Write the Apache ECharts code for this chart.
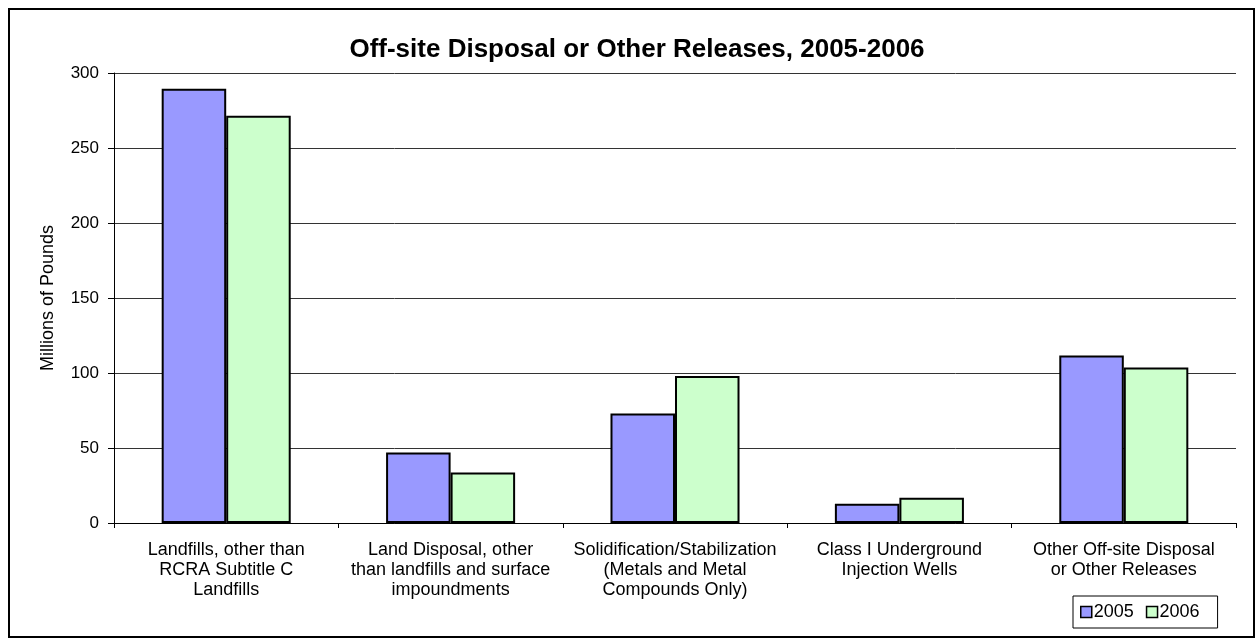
<!DOCTYPE html>
<html><head><meta charset="utf-8">
<script src="https://cdn.jsdelivr.net/npm/echarts@6/dist/echarts.min.js"></script>
<style>html,body{margin:0;padding:0;background:#fff}#c{width:1256px;height:639px}</style>
</head><body><div id="c"></div>
<script>
const categories = [
  "Landfills, other than\nRCRA Subtitle C\nLandfills",
  "Land Disposal, other\nthan landfills and surface\nimpoundments",
  "Solidification/Stabilization\n(Metals and Metal\nCompounds Only)",
  "Class I Underground\nInjection Wells",
  "Other Off-site Disposal\nor Other Releases"
];
const values2005 = [289.5, 47, 73, 12.9, 111.7];
const values2006 = [271.5, 33.7, 98, 16.9, 103.7];
const yTicks = [0, 50, 100, 150, 200, 250, 300];

const chart = echarts.init(document.getElementById('c'));
const font = 'Liberation Sans, Arial, sans-serif';
chart.setOption({
  animation: false,
  textStyle: {fontFamily: font},
  title: {
    text: 'Off-site Disposal or Other Releases, 2005-2006',
    left: 632, textAlign: 'center', top: 32,
    textStyle: {fontFamily: font, fontSize: 26, fontWeight: 'bold', color: '#000'}
  },
  graphic: [{
    type: 'rect', shape: {x: 9, y: 9, width: 1245, height: 628},
    style: {fill: 'none', stroke: '#000', lineWidth: 2}, silent: true, z: -1
  }],
  legend: {
    left: 1073, top: 596,
    padding: [7, 18, 7, 7],
    borderColor: '#000', borderWidth: 1,
    icon: 'rect', itemWidth: 11, itemHeight: 11, itemGap: 12,
    textStyle: {fontFamily: font, fontSize: 18, color: '#000', padding: [0, 0, 0, -3]},
    itemStyle: {borderColor: '#000', borderWidth: 1.5},
    data: ['2005', '2006']
  },
  grid: {left: 114, right: 20, top: 73, bottom: 116, containLabel: false},
  xAxis: {
    type: 'category', data: categories,
    axisLine: {lineStyle: {color: '#000', width: 1}},
    axisTick: {show: true, interval: 0, length: 5, lineStyle: {color: '#000'}},
    axisLabel: {interval: 0, margin: 17, fontSize: 18, lineHeight: 20, color: '#000', fontFamily: font}
  },
  yAxis: {
    type: 'value', min: 0, max: 300, interval: 50,
    name: 'Millions of Pounds', nameLocation: 'middle', nameGap: 57, nameRotate: 90,
    nameTextStyle: {fontSize: 18, color: '#000', fontFamily: font},
    axisLine: {show: true, lineStyle: {color: '#000', width: 1}},
    axisTick: {show: true, length: 6, lineStyle: {color: '#000'}},
    axisLabel: {fontSize: 17, color: '#000', margin: 15, fontFamily: font,
      formatter: v => yTicks.includes(v) ? String(v) : ''},
    splitLine: {show: true, lineStyle: {color: '#333', width: 1}}
  },
  series: [
    {name: '2005', type: 'bar', data: values2005, barGap: '0%', barCategoryGap: '42.5%',
      itemStyle: {color: '#9999FF', borderColor: '#000', borderWidth: 2}},
    {name: '2006', type: 'bar', data: values2006, barGap: '0%', barCategoryGap: '42.5%',
      itemStyle: {color: '#CCFFCC', borderColor: '#000', borderWidth: 2}}
  ]
});
</script></body></html>
